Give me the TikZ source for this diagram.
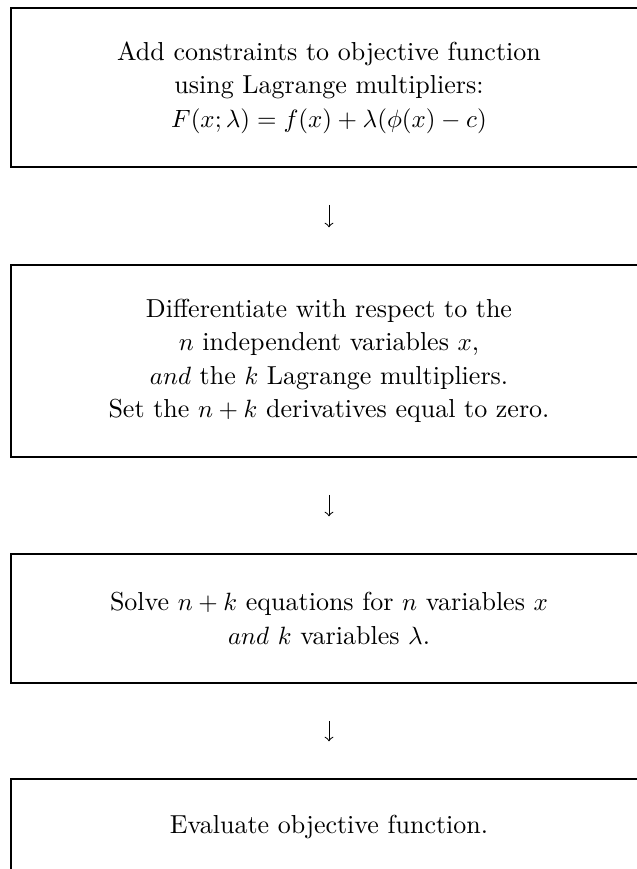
\documentclass[tikz,border=0pt]{standalone}
\usetikzlibrary{arrows}

\begin{document}
\begin{tikzpicture}[x=0.4pt,y=-0.4pt,
    stepbox/.style={draw, line width=1pt, align=center, minimum width=254.4pt,
        font=\fontsize{10.4}{13.4}\selectfont},
    flow/.style={->, >=to, thin, shorten <=14.6pt, shorten >=14.6pt}]
    \useasboundingbox (0,0) rectangle (637,869);
    \clip (0,0) rectangle (637,869);
    \node at (329,87.5) [stepbox, minimum height=63.6pt] (lagr)
        {Add constraints to objective function\\
         using Lagrange multipliers:\\
         $F(x;\lambda)=f(x)+\lambda(\phi(x)-c)$};
    \node at (329,361) [stepbox, minimum height=76.8pt] (diff)
        {Differentiate with respect to the\\
         $n$ independent variables $x$,\\
         $and$ the $k$ Lagrange multipliers.\\
         Set the $n+k$ derivatives equal to zero.};
    \node at (329,618.5) [stepbox, minimum height=51.6pt] (solve)
        {Solve $n+k$ equations for $n$ variables $x$\\
         $and$ $k$ variables $\lambda$.};
    \node at (329,827) [stepbox, minimum height=38.4pt] (eval)
        {Evaluate objective function.};
    \draw[flow] (lagr) -- (diff);
    \draw[flow] (diff) -- (solve);
    \draw[flow] (solve) -- (eval);
\end{tikzpicture}
\end{document}
